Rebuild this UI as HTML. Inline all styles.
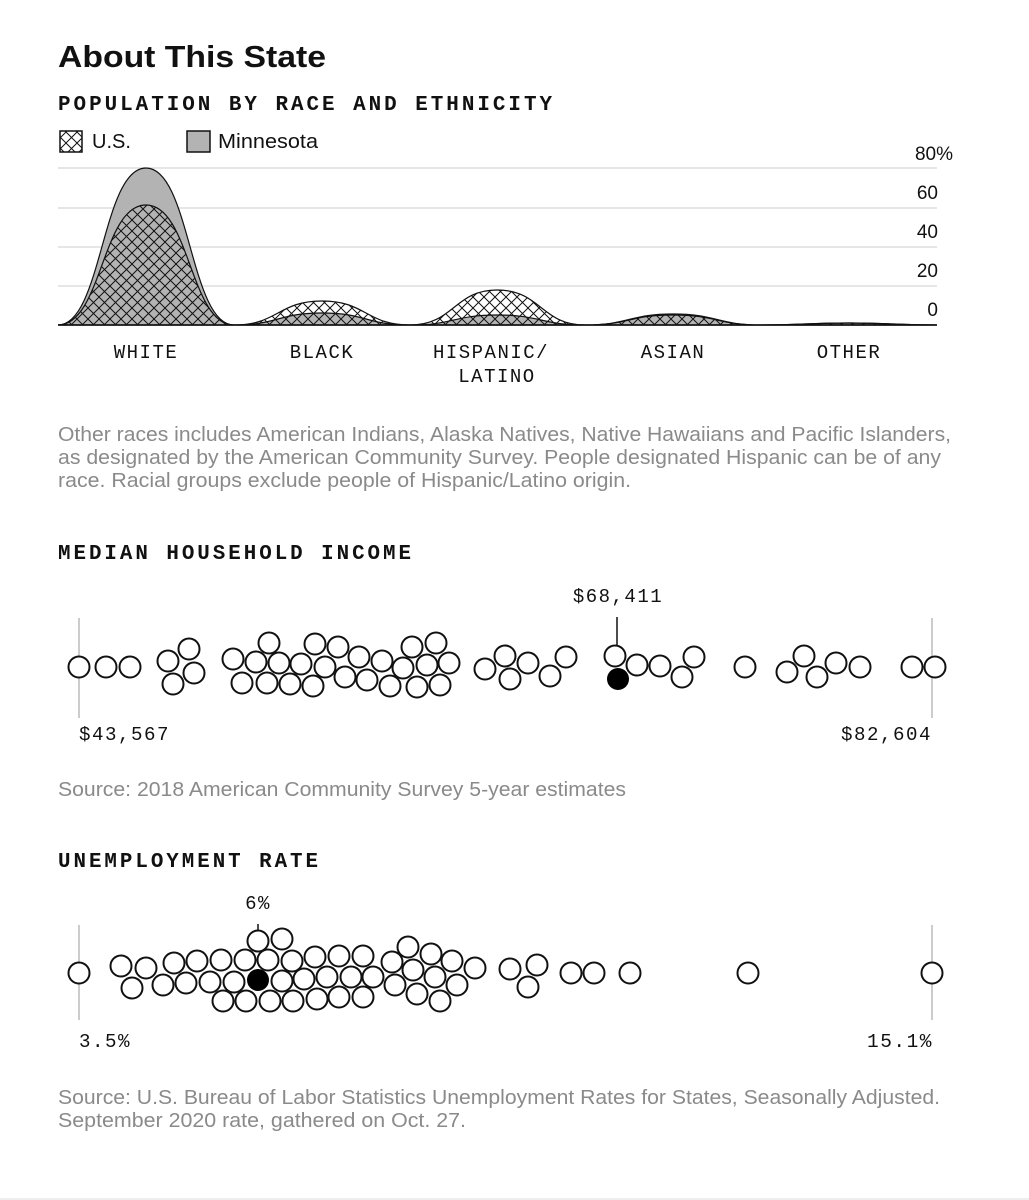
<!DOCTYPE html>
<html><head><meta charset="utf-8"><style>
html,body{margin:0;padding:0;background:#fff;}
svg{display:block}
.mono{font-family:"Liberation Mono",monospace;}
.sans{font-family:"Liberation Sans",sans-serif;}
.h{font-family:"Liberation Mono",monospace;font-weight:bold;font-size:21px;letter-spacing:3px;fill:#111}
.note{font-family:"Liberation Sans",sans-serif;font-size:20px;fill:#8a8a8a}
.lab{font-family:"Liberation Mono",monospace;font-size:19px;letter-spacing:1.5px;fill:#111}
.ax{font-family:"Liberation Sans",sans-serif;font-size:19px;fill:#111}
</style></head><body>
<svg width="1029" height="1200" viewBox="0 0 1029 1200" xmlns="http://www.w3.org/2000/svg">
<defs>
<pattern id="hx" patternUnits="userSpaceOnUse" width="11" height="11">
<path d="M0,0 L11,11 M11,0 L0,11" stroke="#111" stroke-width="1"/>
</pattern>
</defs>
<text x="58" y="67" class="sans" font-size="31" font-weight="bold" fill="#111" textLength="268" lengthAdjust="spacingAndGlyphs">About This State</text>
<text x="58" y="110" class="h" textLength="497" lengthAdjust="spacingAndGlyphs">POPULATION BY RACE AND ETHNICITY</text>
<rect x="60" y="131" width="22" height="21" fill="url(#hx)" stroke="#111" stroke-width="1.5"/>
<text x="92" y="148" class="sans" font-size="20" fill="#111">U.S.</text>
<rect x="187" y="131" width="23" height="21" fill="#b3b3b3" stroke="#111" stroke-width="1.5"/>
<text x="218" y="148" class="sans" font-size="20" fill="#111" textLength="100" lengthAdjust="spacingAndGlyphs">Minnesota</text>
<g stroke="#ccc" stroke-width="1">
<line x1="58" y1="168" x2="937" y2="168"/><line x1="58" y1="208" x2="937" y2="208"/>
<line x1="58" y1="247" x2="937" y2="247"/><line x1="58" y1="286" x2="937" y2="286"/>
</g>
<g class="ax" text-anchor="end">
<text x="953" y="160">80%</text><text x="938" y="199">60</text><text x="938" y="238">40</text>
<text x="938" y="277">20</text><text x="938" y="316">0</text>
</g>
<g fill="#b3b3b3" stroke="#111" stroke-width="1.2">
<path d="M58,325 C102,325 102,168 146,168 C190,168 190,325 234,325 Z"/>
<path d="M234,325 C278,325 278,313 322,313 C366,313 366,325 410,325 Z"/>
<path d="M410,325 C454,325 454,315 497,315 C541,315 541,325 585,325 Z"/>
<path d="M585,325 C629,325 629,315 673,315 C717,315 717,325 761,325 Z"/>
<path d="M761,325 C805,325 805,323 849,323 C893,323 893,325 937,325 Z"/>
</g>
<g fill="url(#hx)" stroke="#111" stroke-width="1.2">
<path d="M58,325 C102,325 102,205 146,205 C190,205 190,325 234,325 Z"/>
<path d="M234,325 C278,325 278,301 322,301 C366,301 366,325 410,325 Z"/>
<path d="M410,325 C454,325 454,290 497,290 C541,290 541,325 585,325 Z"/>
<path d="M585,325 C629,325 629,314 673,314 C717,314 717,325 761,325 Z"/>
<path d="M761,325 C805,325 805,323 849,323 C893,323 893,325 937,325 Z"/>
</g>
<line x1="58" y1="325" x2="937" y2="325" stroke="#111" stroke-width="1.5"/>
<g class="lab" text-anchor="middle">
<text x="146" y="358">WHITE</text><text x="322" y="358">BLACK</text>
<text x="491" y="358">HISPANIC/</text><text x="497" y="382">LATINO</text>
<text x="673" y="358">ASIAN</text><text x="849" y="358">OTHER</text>
</g>
<text x="58" y="441" class="note" textLength="893" lengthAdjust="spacingAndGlyphs">Other races includes American Indians, Alaska Natives, Native Hawaiians and Pacific Islanders,</text>
<text x="58" y="464" class="note" textLength="883" lengthAdjust="spacingAndGlyphs">as designated by the American Community Survey. People designated Hispanic can be of any</text>
<text x="58" y="487" class="note" textLength="573" lengthAdjust="spacingAndGlyphs">race. Racial groups exclude people of Hispanic/Latino origin.</text>

<text x="58" y="559" class="h" textLength="356" lengthAdjust="spacingAndGlyphs">MEDIAN HOUSEHOLD INCOME</text>
<line x1="79" y1="618" x2="79" y2="718" stroke="#ccc" stroke-width="2"/>
<line x1="932" y1="618" x2="932" y2="718" stroke="#ccc" stroke-width="2"/>
<text x="618" y="602" class="lab" text-anchor="middle">$68,411</text>
<line x1="617" y1="617" x2="617" y2="646" stroke="#111" stroke-width="1.5"/>
<g fill="#fff" stroke="#111" stroke-width="2">
<circle cx="79" cy="667" r="10.5"/><circle cx="106" cy="667" r="10.5"/><circle cx="130" cy="667" r="10.5"/>
<circle cx="168" cy="661" r="10.5"/><circle cx="189" cy="649" r="10.5"/><circle cx="194" cy="673" r="10.5"/><circle cx="173" cy="684" r="10.5"/>
<circle cx="233" cy="659" r="10.5"/><circle cx="242" cy="683" r="10.5"/><circle cx="256" cy="662" r="10.5"/><circle cx="269" cy="643" r="10.5"/>
<circle cx="267" cy="683" r="10.5"/><circle cx="279" cy="663" r="10.5"/><circle cx="290" cy="684" r="10.5"/><circle cx="301" cy="664" r="10.5"/>
<circle cx="315" cy="644" r="10.5"/><circle cx="313" cy="686" r="10.5"/><circle cx="325" cy="667" r="10.5"/><circle cx="338" cy="647" r="10.5"/>
<circle cx="345" cy="677" r="10.5"/><circle cx="359" cy="657" r="10.5"/><circle cx="367" cy="680" r="10.5"/><circle cx="382" cy="661" r="10.5"/>
<circle cx="390" cy="686" r="10.5"/><circle cx="403" cy="668" r="10.5"/><circle cx="412" cy="647" r="10.5"/><circle cx="417" cy="687" r="10.5"/>
<circle cx="427" cy="665" r="10.5"/><circle cx="436" cy="643" r="10.5"/><circle cx="440" cy="685" r="10.5"/><circle cx="449" cy="663" r="10.5"/>
<circle cx="485" cy="669" r="10.5"/><circle cx="505" cy="656" r="10.5"/><circle cx="510" cy="679" r="10.5"/><circle cx="528" cy="663" r="10.5"/>
<circle cx="550" cy="676" r="10.5"/><circle cx="566" cy="657" r="10.5"/><circle cx="615" cy="656" r="10.5"/>
<circle cx="637" cy="665" r="10.5"/><circle cx="660" cy="666" r="10.5"/><circle cx="682" cy="677" r="10.5"/><circle cx="694" cy="657" r="10.5"/>
<circle cx="745" cy="667" r="10.5"/><circle cx="787" cy="672" r="10.5"/><circle cx="804" cy="656" r="10.5"/><circle cx="817" cy="677" r="10.5"/>
<circle cx="836" cy="663" r="10.5"/><circle cx="860" cy="667" r="10.5"/><circle cx="912" cy="667" r="10.5"/><circle cx="935" cy="667" r="10.5"/>
</g>
<circle cx="618" cy="679" r="11" fill="#000"/>
<text x="79" y="740" class="lab" textLength="91" lengthAdjust="spacingAndGlyphs">$43,567</text>
<text x="841" y="740" class="lab" textLength="91" lengthAdjust="spacingAndGlyphs">$82,604</text>
<text x="58" y="796" class="note" textLength="568" lengthAdjust="spacingAndGlyphs">Source: 2018 American Community Survey 5-year estimates</text>

<text x="58" y="867" class="h" textLength="263" lengthAdjust="spacingAndGlyphs">UNEMPLOYMENT RATE</text>
<line x1="79" y1="925" x2="79" y2="1020" stroke="#ccc" stroke-width="2"/>
<line x1="932" y1="925" x2="932" y2="1020" stroke="#ccc" stroke-width="2"/>
<text x="258" y="909" class="lab" text-anchor="middle">6%</text>
<line x1="258" y1="924" x2="258" y2="932" stroke="#111" stroke-width="1.5"/>
<g fill="#fff" stroke="#111" stroke-width="2">
<circle cx="79" cy="973" r="10.5"/><circle cx="121" cy="966" r="10.5"/><circle cx="132" cy="988" r="10.5"/><circle cx="146" cy="968" r="10.5"/>
<circle cx="163" cy="985" r="10.5"/><circle cx="174" cy="963" r="10.5"/><circle cx="186" cy="983" r="10.5"/><circle cx="197" cy="961" r="10.5"/>
<circle cx="210" cy="982" r="10.5"/><circle cx="221" cy="960" r="10.5"/><circle cx="223" cy="1001" r="10.5"/><circle cx="234" cy="982" r="10.5"/>
<circle cx="245" cy="960" r="10.5"/><circle cx="246" cy="1001" r="10.5"/><circle cx="258" cy="941" r="10.5"/><circle cx="268" cy="960" r="10.5"/>
<circle cx="270" cy="1001" r="10.5"/><circle cx="282" cy="939" r="10.5"/><circle cx="282" cy="981" r="10.5"/><circle cx="292" cy="961" r="10.5"/>
<circle cx="293" cy="1001" r="10.5"/><circle cx="304" cy="979" r="10.5"/><circle cx="315" cy="957" r="10.5"/><circle cx="317" cy="999" r="10.5"/>
<circle cx="327" cy="977" r="10.5"/><circle cx="339" cy="956" r="10.5"/><circle cx="339" cy="997" r="10.5"/><circle cx="351" cy="977" r="10.5"/>
<circle cx="363" cy="956" r="10.5"/><circle cx="363" cy="997" r="10.5"/><circle cx="373" cy="977" r="10.5"/><circle cx="392" cy="962" r="10.5"/>
<circle cx="395" cy="985" r="10.5"/><circle cx="408" cy="947" r="10.5"/><circle cx="413" cy="970" r="10.5"/><circle cx="417" cy="994" r="10.5"/>
<circle cx="431" cy="954" r="10.5"/><circle cx="435" cy="977" r="10.5"/><circle cx="440" cy="1001" r="10.5"/><circle cx="452" cy="961" r="10.5"/>
<circle cx="457" cy="985" r="10.5"/><circle cx="475" cy="968" r="10.5"/><circle cx="510" cy="969" r="10.5"/><circle cx="528" cy="987" r="10.5"/>
<circle cx="537" cy="965" r="10.5"/><circle cx="571" cy="973" r="10.5"/><circle cx="594" cy="973" r="10.5"/><circle cx="630" cy="973" r="10.5"/>
<circle cx="748" cy="973" r="10.5"/><circle cx="932" cy="973" r="10.5"/>
</g>
<circle cx="258" cy="980" r="11" fill="#000"/>
<text x="79" y="1047" class="lab" textLength="52" lengthAdjust="spacingAndGlyphs">3.5%</text>
<text x="867" y="1047" class="lab" textLength="66" lengthAdjust="spacingAndGlyphs">15.1%</text>
<text x="58" y="1104" class="note" textLength="882" lengthAdjust="spacingAndGlyphs">Source: U.S. Bureau of Labor Statistics Unemployment Rates for States, Seasonally Adjusted.</text>
<text x="58" y="1127" class="note" textLength="408" lengthAdjust="spacingAndGlyphs">September 2020 rate, gathered on Oct. 27.</text>
<line x1="0" y1="1199" x2="1029" y2="1199" stroke="#eee" stroke-width="2"/>
</svg>
</body></html>
